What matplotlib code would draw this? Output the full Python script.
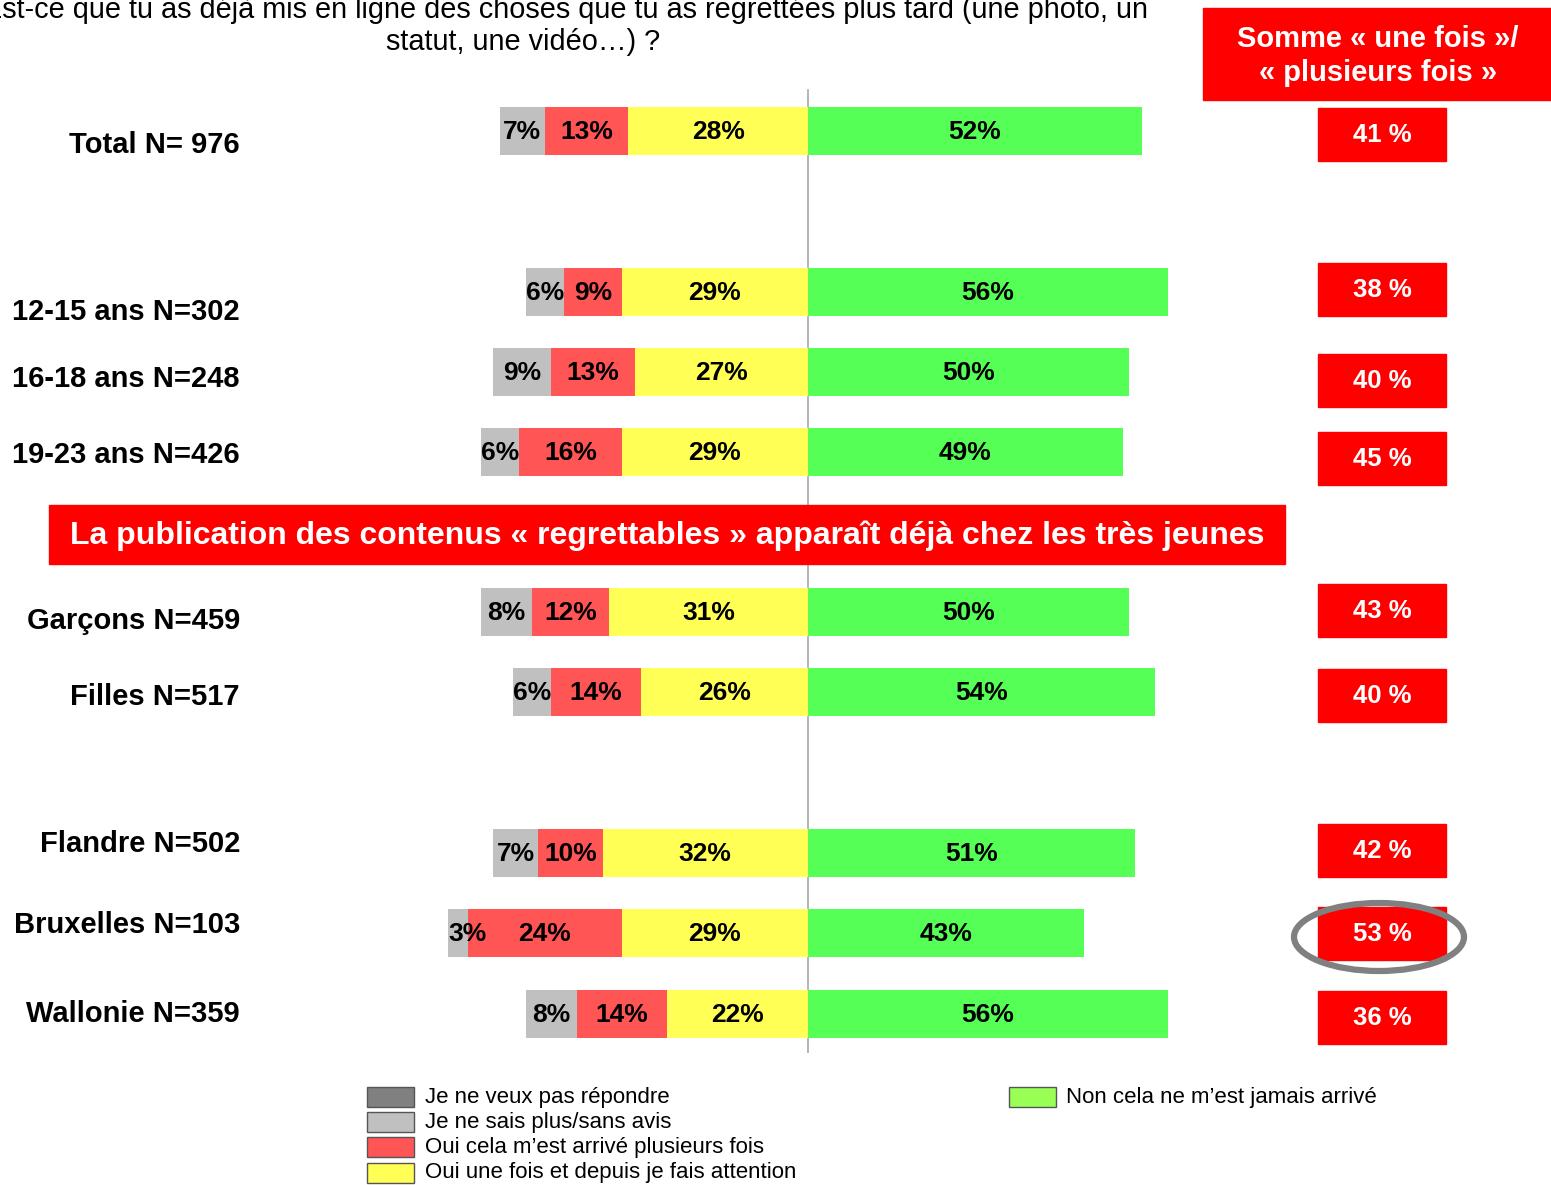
import matplotlib
matplotlib.use("Agg")
import matplotlib.pyplot as plt
from matplotlib.patches import Rectangle, Ellipse

plt.rcParams['font.family'] = ['Liberation Sans', 'DejaVu Sans']

# ---------------- data ----------------
categories = ["Total N= 976", "12-15 ans N=302", "16-18 ans N=248", "19-23 ans N=426",
              "Garçons N=459", "Filles N=517", "Flandre N=502", "Bruxelles N=103",
              "Wallonie N=359"]
no_answer = [0, 0, 0, 0, 0, 0, 0, 0, 0]           # Je ne veux pas répondre
dont_know = [7, 6, 9, 6, 8, 6, 7, 3, 8]            # Je ne sais plus/sans avis
several = [13, 9, 13, 16, 12, 14, 10, 24, 14]      # Oui cela m'est arrivé plusieurs fois
once = [28, 29, 27, 29, 31, 26, 32, 29, 22]        # Oui une fois et depuis je fais attention
never = [52, 56, 50, 49, 50, 54, 51, 43, 56]       # Non cela ne m'est jamais arrivé
sum_yes = [41, 38, 40, 45, 43, 40, 42, 53, 36]     # Somme « une fois »/« plusieurs fois »
series_names = ["Je ne veux pas répondre", "Je ne sais plus/sans avis",
                "Oui cela m\u2019est arrivé plusieurs fois",
                "Oui une fois et depuis je fais attention",
                "Non cela ne m\u2019est jamais arrivé"]
title_line1 = "Est-ce que tu as déjà mis en ligne des choses que tu as regrettées plus tard (une photo, un"
title_line2 = "statut, une vidéo\u2026) ?"
banner = "La publication des contenus \u00ab regrettables \u00bb apparaît déjà chez les très jeunes"
sum_header = "Somme \u00ab une fois \u00bb/\n\u00ab plusieurs fois \u00bb"

# ---------------- layout ----------------
W, H = 1551, 1185
bar_y = [131, 292, 372, 452, 612, 692, 853, 933, 1014]
label_y = [143, 310, 377, 453, 619, 695, 842, 923, 1012]
box_y = [134, 289, 380, 458, 610, 695, 850, 933, 1017]
center_px, px_per_pct = 808, 6.42
bar_h = 48

c_dark = "#808080"
c_gray = "#C0C0C0"
c_red = "#FF5555"
c_yel = "#FFFF55"
c_grn = "#55FF55"
c_grn_leg = "#99FF55"
c_box = "#FF0000"

fig = plt.figure(figsize=(W / 100, H / 100), dpi=100)
ov = fig.add_axes([0, 0, 1, 1])
ov.set_xlim(0, W)
ov.set_ylim(H, 0)
ov.axis("off")

ax = fig.add_axes([0, 0, 1, 1], zorder=2)
ax.set_xlim(-center_px / px_per_pct, (W - center_px) / px_per_pct)
ax.set_ylim(H, 0)
ax.axis("off")
ax.patch.set_alpha(0)

top = fig.add_axes([0, 0, 1, 1], zorder=3)
top.set_xlim(0, W)
top.set_ylim(H, 0)
top.axis("off")
top.patch.set_alpha(0)

# center line
ov.plot([center_px, center_px], [90, 1052], color="#B0B0B0", lw=1.3, zorder=1)

# bars
for i in range(len(categories)):
    y = bar_y[i]
    left_segs = [(no_answer[i], c_dark), (dont_know[i], c_gray), (several[i], c_red), (once[i], c_yel)]
    total_left = sum(v for v, _ in left_segs)
    start = -total_left
    for v, col in left_segs:
        if v > 0:
            ax.barh(y, v, left=start, height=bar_h, color=col, edgecolor="none", zorder=2)
            cx = start + v / 2
            if v < 5:
                cx = start + 3.0
            ax.text(cx, y + 1, f"{v}%", ha="center", va="center", fontsize=19,
                    fontweight="bold", color="black", zorder=3)
        start += v
    ax.barh(y, never[i], left=0, height=bar_h, color=c_grn, edgecolor="none", zorder=2)
    ax.text(never[i] / 2, y + 1, f"{never[i]}%", ha="center", va="center", fontsize=19,
            fontweight="bold", color="black", zorder=3)

# category labels
for lab, ly in zip(categories, label_y):
    ov.text(240, ly + 2, lab, ha="right", va="center", fontsize=21, fontweight="bold")

# title (cut at the left edge, as in the original)
ov.text(1148, 10, title_line1, ha="right", va="center", fontsize=20.8)
ov.text(523, 42, title_line2, ha="center", va="center", fontsize=20.8)

# summary header
ov.add_patch(Rectangle((1203, 8), 348, 92, color=c_box, zorder=1))
ov.text(1378, 56, sum_header, ha="center", va="center", fontsize=21, fontweight="bold",
        color="white", linespacing=1.25, zorder=2)

# summary boxes
for s, by in zip(sum_yes, box_y):
    ov.add_patch(Rectangle((1318, by - 26.5), 128, 53, color=c_box, zorder=1))
    ov.text(1382, by + 1, f"{s} %", ha="center", va="center", fontsize=18.5, fontweight="bold",
            color="white", zorder=2)

# highlight ellipse
top.add_patch(Ellipse((1379, 937), 170, 68, fill=False, edgecolor="#808080", lw=4.5, zorder=3))

# banner
top.add_patch(Rectangle((49, 505), 1236, 59, color=c_box, zorder=4))
top.text(667, 536, banner, ha="center", va="center", fontsize=23, fontweight="bold",
         color="white", zorder=5)

# legend
leg_cols = [c_dark, c_gray, c_red, c_yel]
for k, (name, col) in enumerate(zip(series_names[:4], leg_cols)):
    ly = 1097 + k * 25.2
    ov.add_patch(Rectangle((367, ly - 10), 47, 20, facecolor=col, edgecolor="#555555", lw=1))
    ov.text(425, ly, name, ha="left", va="center", fontsize=16)
ov.add_patch(Rectangle((1009, 1087), 47, 20, facecolor=c_grn_leg, edgecolor="#555555", lw=1))
ov.text(1066, 1097, series_names[4], ha="left", va="center", fontsize=16)

fig.savefig("out.png", dpi=100)
